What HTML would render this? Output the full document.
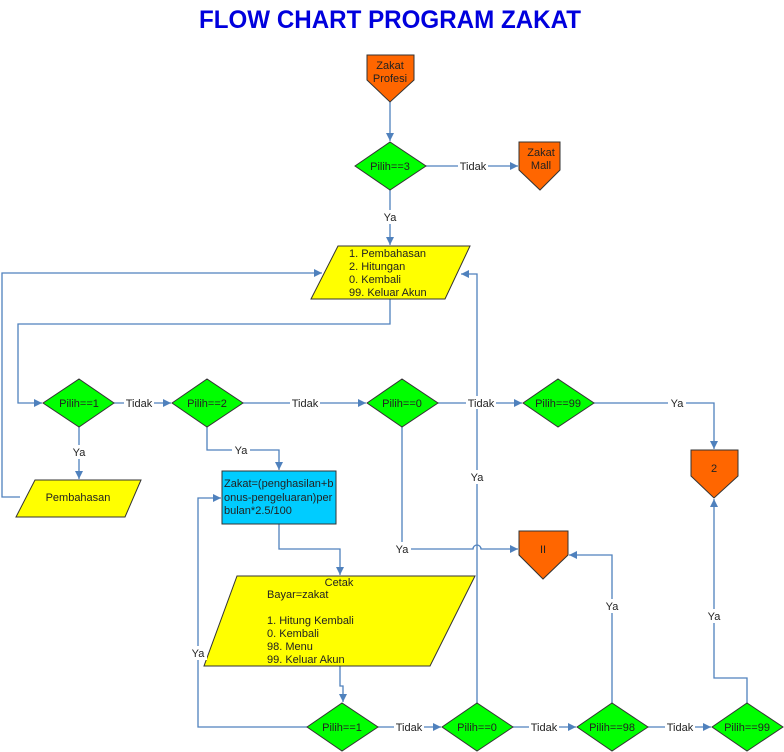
<!DOCTYPE html>
<html><head><meta charset="utf-8"><style>
html,body{margin:0;padding:0;background:#fff;}
svg{display:block;font-family:"Liberation Sans",Arial,sans-serif;}
</style></head><body>
<svg width="784" height="752" viewBox="0 0 784 752" xmlns="http://www.w3.org/2000/svg">
<defs>
<marker id="a" viewBox="0 0 10 10" refX="10" refY="5" markerWidth="8" markerHeight="8" orient="auto" markerUnits="userSpaceOnUse"><path d="M0,0L10,5L0,10z" fill="#4f81bd"/></marker>
</defs>
<text x="390" y="28" text-anchor="middle" font-size="25" font-weight="bold" fill="#0000dd" textLength="382" lengthAdjust="spacingAndGlyphs">FLOW CHART PROGRAM ZAKAT</text>

<g fill="none" stroke="#4f81bd" stroke-width="1.3">
<path d="M390,102V141" marker-end="url(#a)"/>
<path d="M426,166H518" marker-end="url(#a)"/>
<path d="M390,190V245" marker-end="url(#a)"/>
<path d="M390,299V324H18V403H42" marker-end="url(#a)"/>
<path d="M20,497H2V273H322" marker-end="url(#a)"/>
<path d="M114,403H171" marker-end="url(#a)"/>
<path d="M79,427V479" marker-end="url(#a)"/>
<path d="M243,403H366" marker-end="url(#a)"/>
<path d="M207,427V450H279V470" marker-end="url(#a)"/>
<path d="M438,403H522" marker-end="url(#a)"/>
<path d="M594,403H714V449" marker-end="url(#a)"/>
<path d="M402,427V549H473a4,4 0 0 1 8,0H518" marker-end="url(#a)"/>
<path d="M279,524V549H340V575" marker-end="url(#a)"/>
<path d="M340,666V686H343V702" marker-end="url(#a)"/>
<path d="M307,727H198V498H221" marker-end="url(#a)"/>
<path d="M378,727H441" marker-end="url(#a)"/>
<path d="M513,727H576" marker-end="url(#a)"/>
<path d="M648,727H711" marker-end="url(#a)"/>
<path d="M477,703V274H461" marker-end="url(#a)"/>
<path d="M612,703V555H569" marker-end="url(#a)"/>
<path d="M747,703V678H714V499" marker-end="url(#a)"/>
</g>

<g stroke="#333" stroke-width="1">
<path d="M367,55H414V80L390,102L367,80Z" fill="#ff6600"/>
<path d="M519,142H560V170L540,190L519,170Z" fill="#ff6600"/>
<path d="M691,450H738V476L714,498L691,476Z" fill="#ff6600"/>
<path d="M519,531H568V555L543,579L519,555Z" fill="#ff6600"/>
<path d="M338,246H470L445,299H311Z" fill="#ffff00"/>
<path d="M35,480H141L125,517H16Z" fill="#ffff00"/>
<path d="M237,576H475L430,666H204Z" fill="#ffff00"/>
<rect x="222" y="471" width="114" height="53" fill="#00ccff"/>
<g fill="#00ff00">
<path d="M355,166L390,142L426,166L390,190Z"/>
<path d="M43,403L79,379L114,403L79,427Z"/>
<path d="M172,403L207,379L243,403L207,427Z"/>
<path d="M367,403L402,379L438,403L402,427Z"/>
<path d="M523,403L558,379L594,403L558,427Z"/>
<path d="M307,727L342,703L378,727L342,751Z"/>
<path d="M442,727L477,703L513,727L477,751Z"/>
<path d="M577,727L612,703L648,727L612,751Z"/>
<path d="M712,727L747,703L783,727L747,751Z"/>
</g>
</g>

<g font-size="11" fill="#222">
<g text-anchor="middle">
<text x="390" y="69">Zakat</text><text x="390" y="82">Profesi</text>
<text x="541" y="156">Zakat</text><text x="541" y="169">Mall</text>
<text x="714" y="472">2</text>
<text x="543" y="553">II</text>
<text x="390" y="170">Pilih==3</text>
<text x="79" y="407">Pilih==1</text>
<text x="207" y="407">Pilih==2</text>
<text x="402" y="407">Pilih==0</text>
<text x="558" y="407">Pilih==99</text>
<text x="342" y="731">Pilih==1</text>
<text x="477" y="731">Pilih==0</text>
<text x="612" y="731">Pilih==98</text>
<text x="747" y="731">Pilih==99</text>
<text x="78" y="501">Pembahasan</text>
<text x="339" y="586">Cetak</text>
</g>
<text x="349" y="257">1. Pembahasan</text>
<text x="349" y="270">2. Hitungan</text>
<text x="349" y="283">0. Kembali</text>
<text x="349" y="296">99. Keluar Akun</text>
<text x="224" y="487">Zakat=(penghasilan+b</text>
<text x="224" y="501">onus-pengeluaran)per</text>
<text x="224" y="514">bulan*2.5/100</text>
<text x="267" y="598">Bayar=zakat</text>
<text x="267" y="624">1. Hitung Kembali</text>
<text x="267" y="637">0. Kembali</text>
<text x="267" y="650">98. Menu</text>
<text x="267" y="663">99. Keluar Akun</text>
</g>

<g font-size="11" fill="#222" text-anchor="middle">
<g fill="#fff"><rect x="458" y="159" width="30" height="13"/><rect x="124" y="396" width="30" height="13"/><rect x="290" y="396" width="30" height="13"/><rect x="466" y="396" width="30" height="13"/><rect x="394" y="720" width="30" height="13"/><rect x="529" y="720" width="30" height="13"/><rect x="665" y="720" width="30" height="13"/>
<rect x="381" y="210" width="18" height="14"/><rect x="70" y="445" width="18" height="14"/><rect x="232" y="443" width="18" height="14"/><rect x="668" y="396" width="18" height="14"/><rect x="468" y="470" width="18" height="14"/><rect x="393" y="542" width="18" height="14"/><rect x="189" y="646" width="18" height="14"/><rect x="603" y="599" width="18" height="14"/><rect x="705" y="609" width="18" height="14"/></g>
<text x="473" y="170">Tidak</text><text x="139" y="407">Tidak</text><text x="305" y="407">Tidak</text><text x="481" y="407">Tidak</text>
<text x="409" y="731">Tidak</text><text x="544" y="731">Tidak</text><text x="680" y="731">Tidak</text>
<text x="390" y="221">Ya</text><text x="79" y="456">Ya</text><text x="241" y="454">Ya</text><text x="677" y="407">Ya</text>
<text x="477" y="481">Ya</text><text x="402" y="553">Ya</text><text x="198" y="657">Ya</text><text x="612" y="610">Ya</text><text x="714" y="620">Ya</text>
</g>
</svg>
</body></html>
